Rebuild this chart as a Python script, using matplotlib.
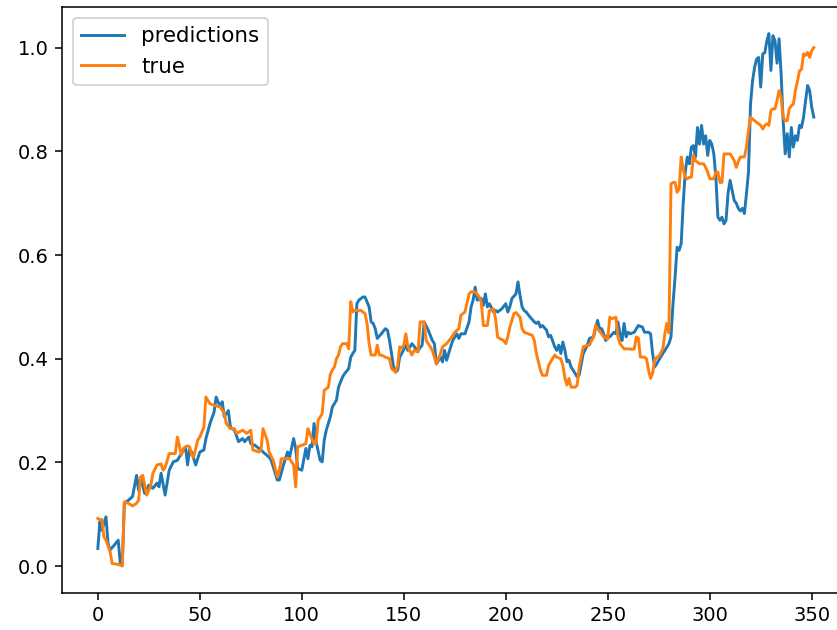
import matplotlib
matplotlib.use("Agg")
import matplotlib.pyplot as plt

# Model output vs. ground truth (normalised), indexed by test step
pred_steps = [
    0, 1, 2, 4, 5, 6, 8, 10, 11, 12, 13, 15, 17, 19, 20, 21, 23, 25, 27, 29,
    30, 31, 33, 35, 37, 39, 41, 43, 44, 45, 46, 48, 50, 52, 53, 55, 57, 58, 60, 61,
    62, 64, 65, 67, 69, 71, 72, 74, 75, 77, 80, 81, 84, 85, 87, 88, 89, 91, 93, 94,
    96, 97, 98, 100, 102, 103, 104, 105, 106, 107, 109, 110, 111, 112, 114, 115, 117, 118, 120, 121,
    123, 124, 125, 126, 127, 128, 130, 131, 133, 134, 135, 136, 137, 139, 141, 142, 143, 145, 146, 147,
    148, 149, 151, 152, 154, 156, 157, 159, 160, 162, 164, 165, 166, 168, 169, 170, 171, 173, 174, 176,
    177, 178, 180, 182, 183, 184, 185, 186, 188, 189, 190, 191, 192, 194, 195, 196, 198, 200, 201, 202,
    203, 205, 206, 207, 208, 209, 210, 212, 214, 215, 216, 217, 218, 220, 221, 222, 224, 225, 226, 227,
    228, 229, 230, 231, 232, 233, 235, 236, 237, 238, 240, 241, 243, 245, 246, 247, 248, 249, 250, 251,
    253, 254, 255, 256, 257, 258, 259, 260, 261, 263, 265, 267, 268, 270, 271, 272, 273, 274, 275, 277,
    278, 280, 281, 282, 283, 284, 285, 286, 287, 288, 289, 290, 291, 292, 293, 294, 295, 296, 297, 298,
    299, 300, 301, 302, 303, 304, 305, 306, 307, 308, 309, 310, 311, 312, 313, 314, 315, 316, 317, 318,
    319, 320, 321, 322, 323, 324, 325, 326, 327, 328, 329, 330, 331, 332, 333, 334, 335, 336, 337, 338,
    339, 340, 341, 342, 343, 344, 345, 346, 347, 348, 349, 350, 351,
]
predictions = [
    0.034, 0.085, 0.069, 0.095, 0.044, 0.031, 0.040, 0.050, 0.006, 0.003, 0.121, 0.127, 0.134, 0.175, 0.146, 0.170, 0.140, 0.156, 0.150, 0.160,
    0.153, 0.179, 0.137, 0.185, 0.201, 0.204, 0.217, 0.230, 0.195, 0.225, 0.220, 0.195, 0.220, 0.224, 0.246, 0.275, 0.297, 0.326, 0.307, 0.317,
    0.288, 0.300, 0.268, 0.262, 0.240, 0.246, 0.240, 0.249, 0.236, 0.233, 0.224, 0.220, 0.210, 0.204, 0.179, 0.166, 0.166, 0.195, 0.220, 0.210,
    0.246, 0.227, 0.188, 0.185, 0.227, 0.207, 0.233, 0.230, 0.275, 0.240, 0.204, 0.201, 0.243, 0.262, 0.288, 0.307, 0.320, 0.345, 0.365, 0.371,
    0.381, 0.403, 0.410, 0.416, 0.506, 0.513, 0.519, 0.519, 0.500, 0.471, 0.468, 0.458, 0.439, 0.448, 0.458, 0.455, 0.435, 0.384, 0.374, 0.378,
    0.403, 0.410, 0.426, 0.416, 0.429, 0.419, 0.416, 0.426, 0.471, 0.455, 0.435, 0.429, 0.390, 0.403, 0.394, 0.416, 0.397, 0.423, 0.435, 0.448,
    0.439, 0.448, 0.448, 0.471, 0.500, 0.513, 0.538, 0.513, 0.516, 0.503, 0.525, 0.500, 0.506, 0.490, 0.493, 0.490, 0.496, 0.506, 0.490, 0.500,
    0.516, 0.525, 0.548, 0.522, 0.500, 0.493, 0.490, 0.480, 0.471, 0.468, 0.471, 0.461, 0.464, 0.455, 0.442, 0.445, 0.423, 0.416, 0.426, 0.410,
    0.432, 0.416, 0.394, 0.397, 0.384, 0.378, 0.365, 0.368, 0.390, 0.410, 0.426, 0.439, 0.442, 0.474, 0.458, 0.458, 0.448, 0.435, 0.445, 0.442,
    0.451, 0.448, 0.471, 0.448, 0.435, 0.468, 0.442, 0.451, 0.448, 0.451, 0.464, 0.461, 0.451, 0.451, 0.448, 0.410, 0.384, 0.390, 0.397, 0.410,
    0.416, 0.429, 0.442, 0.506, 0.557, 0.615, 0.609, 0.622, 0.700, 0.760, 0.789, 0.776, 0.808, 0.811, 0.789, 0.846, 0.814, 0.850, 0.814, 0.830,
    0.792, 0.821, 0.814, 0.795, 0.750, 0.673, 0.667, 0.673, 0.660, 0.667, 0.720, 0.744, 0.724, 0.705, 0.700, 0.690, 0.685, 0.690, 0.680, 0.718,
    0.760, 0.891, 0.936, 0.962, 0.978, 0.981, 0.924, 0.988, 0.990, 1.013, 1.027, 0.956, 1.023, 1.013, 0.970, 1.017, 0.949, 0.859, 0.795, 0.834,
    0.789, 0.846, 0.808, 0.830, 0.821, 0.850, 0.846, 0.866, 0.898, 0.927, 0.917, 0.885, 0.866,
]

true_steps = [
    0, 1, 2, 3, 4, 6, 7, 9, 11, 12, 13, 15, 17, 19, 20, 21, 22, 24, 26, 27,
    29, 31, 32, 33, 35, 38, 39, 41, 42, 44, 45, 46, 47, 48, 49, 50, 52, 53, 55, 57,
    60, 62, 63, 65, 67, 68, 71, 73, 75, 76, 79, 80, 81, 83, 84, 86, 88, 89, 90, 93,
    94, 96, 97, 98, 100, 102, 103, 105, 106, 107, 108, 110, 111, 113, 114, 115, 116, 117, 118, 119,
    120, 122, 123, 124, 125, 126, 129, 131, 132, 133, 134, 136, 137, 138, 139, 141, 143, 144, 146, 147,
    148, 149, 150, 151, 152, 154, 155, 157, 158, 160, 161, 163, 164, 166, 168, 169, 171, 173, 175, 177,
    178, 180, 182, 183, 185, 187, 188, 189, 191, 192, 194, 195, 196, 197, 199, 200, 201, 202, 204, 205,
    207, 208, 209, 211, 213, 214, 215, 217, 218, 220, 221, 222, 224, 225, 227, 228, 229, 230, 231, 232,
    234, 235, 236, 238, 240, 241, 243, 244, 245, 247, 248, 250, 251, 252, 254, 255, 256, 258, 260, 262,
    263, 264, 265, 266, 268, 269, 270, 271, 272, 273, 274, 275, 277, 278, 279, 280, 281, 282, 283, 284,
    285, 286, 287, 288, 289, 290, 291, 292, 293, 294, 295, 297, 298, 299, 300, 302, 303, 304, 305, 306,
    307, 309, 310, 311, 312, 313, 314, 315, 317, 318, 319, 320, 321, 323, 324, 325, 326, 327, 328, 329,
    330, 331, 332, 333, 334, 335, 336, 337, 338, 339, 340, 341, 342, 343, 344, 345, 346, 347, 348, 349,
    350, 351,
]
true_values = [
    0.092, 0.089, 0.090, 0.056, 0.050, 0.028, 0.005, 0.004, 0.002, 0.000, 0.124, 0.121, 0.116, 0.121, 0.127, 0.172, 0.175, 0.137, 0.156, 0.179,
    0.195, 0.197, 0.185, 0.190, 0.217, 0.217, 0.249, 0.214, 0.227, 0.232, 0.230, 0.214, 0.210, 0.227, 0.243, 0.249, 0.268, 0.326, 0.313, 0.310,
    0.307, 0.294, 0.275, 0.265, 0.265, 0.256, 0.262, 0.256, 0.262, 0.224, 0.220, 0.224, 0.265, 0.243, 0.220, 0.204, 0.172, 0.185, 0.207, 0.207,
    0.207, 0.195, 0.153, 0.230, 0.233, 0.236, 0.265, 0.245, 0.236, 0.236, 0.281, 0.294, 0.339, 0.345, 0.370, 0.378, 0.384, 0.400, 0.407, 0.423,
    0.429, 0.429, 0.419, 0.510, 0.490, 0.493, 0.493, 0.487, 0.468, 0.429, 0.407, 0.407, 0.426, 0.407, 0.407, 0.403, 0.400, 0.381, 0.374, 0.387,
    0.423, 0.420, 0.426, 0.448, 0.423, 0.407, 0.416, 0.413, 0.471, 0.471, 0.435, 0.423, 0.416, 0.390, 0.410, 0.423, 0.429, 0.439, 0.451, 0.458,
    0.484, 0.490, 0.525, 0.529, 0.529, 0.519, 0.509, 0.464, 0.464, 0.493, 0.496, 0.477, 0.442, 0.439, 0.435, 0.429, 0.442, 0.461, 0.487, 0.489,
    0.480, 0.458, 0.451, 0.448, 0.445, 0.435, 0.410, 0.378, 0.368, 0.368, 0.387, 0.394, 0.407, 0.403, 0.400, 0.387, 0.362, 0.349, 0.362, 0.345,
    0.345, 0.349, 0.384, 0.423, 0.426, 0.426, 0.442, 0.464, 0.458, 0.448, 0.442, 0.438, 0.480, 0.477, 0.480, 0.442, 0.429, 0.419, 0.419, 0.418,
    0.419, 0.442, 0.440, 0.403, 0.403, 0.400, 0.378, 0.362, 0.372, 0.397, 0.403, 0.404, 0.419, 0.448, 0.468, 0.450, 0.737, 0.740, 0.740, 0.721,
    0.727, 0.789, 0.766, 0.750, 0.747, 0.750, 0.750, 0.792, 0.782, 0.779, 0.776, 0.776, 0.769, 0.760, 0.747, 0.747, 0.760, 0.760, 0.740, 0.740,
    0.795, 0.795, 0.795, 0.789, 0.782, 0.769, 0.780, 0.789, 0.789, 0.808, 0.840, 0.866, 0.862, 0.856, 0.853, 0.850, 0.843, 0.850, 0.853, 0.850,
    0.879, 0.882, 0.882, 0.898, 0.917, 0.904, 0.866, 0.859, 0.859, 0.882, 0.888, 0.891, 0.917, 0.935, 0.955, 0.958, 0.988, 0.985, 0.991, 0.981,
    0.994, 1.000,
]

fig = plt.figure(figsize=(837 / 140, 630 / 140), dpi=140)
ax = fig.add_axes([0.0741, 0.0592, 0.9409, 0.9297])

ax.plot(pred_steps, predictions, label="predictions")
ax.plot(true_steps, true_values, label="true")
ax.legend(loc="upper left", fontsize=11)

fig.savefig("out.png", dpi=140)
